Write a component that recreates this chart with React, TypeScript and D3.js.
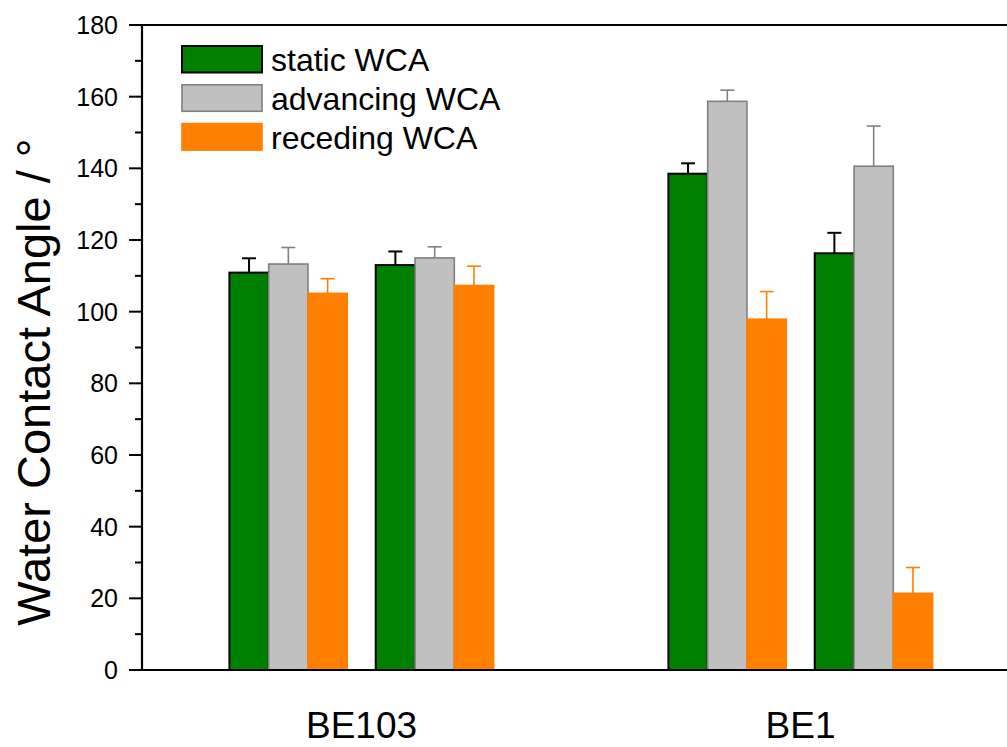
import React from "react";
import * as d3 from "d3";

const groups = ["BE103", "BE1"];
const groupPositions = [1.5, 4.5];
const samplePositions = [1, 2, 4, 5];
const seriesNames = ["static WCA", "advancing WCA", "receding WCA"];
const staticWCA = [110.9, 113.0, 138.5, 116.3];
const staticErr = [4.0, 3.8, 2.9, 5.7];
const advancingWCA = [113.3, 115.0, 158.7, 140.6];
const advancingErr = [4.6, 3.1, 3.1, 11.2];
const recedingWCA = [105.1, 107.3, 97.9, 21.4];
const recedingErr = [4.1, 5.4, 7.7, 7.2];
const yTicks = [0, 20, 40, 60, 80, 100, 120, 140, 160, 180];
const yMinorTicks = [10, 30, 50, 70, 90, 110, 130, 150, 170];

const seriesValues = [staticWCA, advancingWCA, recedingWCA];
const seriesErrors = [staticErr, advancingErr, recedingErr];
const fills = ["#008000", "#c0c0c0", "#ff8000"];
const strokes = ["#000000", "#808080", "#ff8000"];

const W = 1007;
const H = 747;
const left = 142;
const top = 25;
const bottom = 670;
const right = 1020;
const font = "'Liberation Sans', Arial, Helvetica, sans-serif";

export default function App() {
  const x = d3.scaleLinear().domain([0, 6]).range([left, right]);
  const y = d3.scaleLinear().domain([0, 180]).range([bottom, top]);
  const unit = x(1) - x(0);
  const barW = unit * 0.2685;

  return (
    <svg
      width={W}
      height={H}
      style={{ position: "absolute", left: 0, top: 0, background: "#fff" }}
      fontFamily={font}
    >
      <rect x={0} y={0} width={W} height={H} fill="#fff" />
      {/* bars */}
      {seriesValues.map((vals, si) =>
        vals.map((v, i) => {
          const cx = x(samplePositions[i]);
          const bx = cx + (si - 1) * barW - barW / 2;
          const errTop = y(v + seriesErrors[si][i]);
          const bcx = bx + barW / 2;
          return (
            <g key={`${si}-${i}`}>
              <line
                x1={bcx}
                x2={bcx}
                y1={y(v)}
                y2={errTop}
                stroke={strokes[si]}
                strokeWidth={si === 0 ? 2 : 1.6}
              />
              <line
                x1={bcx - 7}
                x2={bcx + 7}
                y1={errTop}
                y2={errTop}
                stroke={strokes[si]}
                strokeWidth={si === 0 ? 2 : 1.6}
              />
              <rect
                x={bx}
                y={y(v)}
                width={barW}
                height={y(0) - y(v)}
                fill={fills[si]}
                stroke={strokes[si]}
                strokeWidth={si === 0 ? 2 : 1.6}
              />
            </g>
          );
        })
      )}
      {/* axes frame */}
      <line x1={left} x2={W} y1={top} y2={top} stroke="#000" strokeWidth={2.2} />
      <line x1={left} x2={W} y1={bottom} y2={bottom} stroke="#000" strokeWidth={2.2} />
      <line x1={left} x2={left} y1={top - 1} y2={bottom + 1} stroke="#000" strokeWidth={2.2} />
      {yTicks.map((t) => (
        <g key={t}>
          <line x1={left - 13} x2={left} y1={y(t)} y2={y(t)} stroke="#000" strokeWidth={2} />
          <text
            x={left - 24}
            y={y(t)}
            dy="0.36em"
            textAnchor="end"
            fontSize={25}
            fill="#000"
          >
            {t}
          </text>
        </g>
      ))}
      {yMinorTicks.map((t) => (
        <line key={t} x1={left - 7} x2={left} y1={y(t)} y2={y(t)} stroke="#000" strokeWidth={2} />
      ))}
      {/* category labels */}
      {groups.map((g, i) => (
        <text
          key={g}
          x={x(groupPositions[i])}
          y={738}
          textAnchor="middle"
          fontSize={37}
          fill="#000"
        >
          {g}
        </text>
      ))}
      {/* y title */}
      <text
        transform={`translate(50, 382) rotate(-90)`}
        textAnchor="middle"
        fontSize={47}
        fill="#000"
      >
        Water Contact Angle / °
      </text>
      {/* legend */}
      {seriesNames.map((n, i) => (
        <g key={n} transform={`translate(182, ${46 + i * 38.8})`}>
          <rect
            x={0}
            y={0}
            width={80}
            height={26.5}
            fill={fills[i]}
            stroke={strokes[i]}
            strokeWidth={i === 0 ? 2 : 1.6}
          />
          <text x={89} y={13.5} dy="0.36em" fontSize={32} fill="#000">
            {n}
          </text>
        </g>
      ))}
    </svg>
  );
}
